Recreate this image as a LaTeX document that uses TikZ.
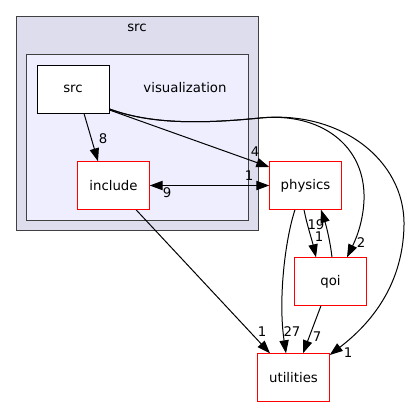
\documentclass[tikz,border=0pt]{standalone}
\usepackage{fontspec}
\setmainfont{DejaVu Sans}
\usetikzlibrary{arrows.meta,calc}
\definecolor{outerfill}{HTML}{DDDDEE}
\definecolor{innerfill}{HTML}{EEEEFF}
\definecolor{clborder}{HTML}{404040}
\definecolor{redb}{RGB}{255,0,0}
\tikzset{
  dirbox/.style={fill=white,text=black,minimum width=72pt,minimum height=48pt,inner sep=0pt,font=\fontsize{13.3}{16}\selectfont},
  srcbox/.style={dirbox,draw=black,line width=1pt},
  redframe/.style={color=redb,draw=redb,line width=1.4pt},
  lbl/.style={inner sep=0pt,text=black,font=\fontsize{13.3}{16}\selectfont},
  dedge/.style={black,line width=1pt,-{Triangle[length=13pt,width=9.3pt]}},
  bedge/.style={black,line width=1pt,{Triangle[length=13pt,width=9.3pt]}-{Triangle[length=13pt,width=9.3pt]}},
}
\begin{document}
\begin{tikzpicture}[x=1pt,y=-1pt]
\useasboundingbox (0,0) rectangle (410,407);
\fill[white] (0,0) rectangle (410,407);
% clusters
\draw[clborder,fill=outerfill,line width=1pt] (16.5,16.5) rectangle (258.5,230.5);
\node[lbl] (srcl) at (137,28) {src};
\draw[clborder,fill=innerfill,line width=1pt] (26.5,54.5) rectangle (248.5,220.5);
\node[lbl] (visl) at (185,88) {visualization};
% nodes
\node[srcbox] (src) at (73,89) {src};
\node[dirbox] (include) at (113.5,185.5) {include};
\node[dirbox] (physics) at (305.5,185.5) {physics};
\node[dirbox] (qoi) at (330.5,281.5) {qoi};
\node[dirbox] (utilities) at (293.5,377.5) {utilities};
% edges
\draw[dedge] ([xshift=11pt]src.south) -- ([xshift=-15.5pt]include.north);
\node[lbl] (l8) at (103,139) {8};
\draw[dedge] ([yshift=-21pt]src.east) -- ([yshift=18.5pt]physics.west);
\node[lbl] (l4) at (255,152) {4};
\draw[bedge] (include.east) -- (physics.west);
\node[lbl] (l1a) at (249,176) {1};
\node[lbl] (l9) at (167,193) {9};
\draw[dedge] ([yshift=-20pt]src.east) .. controls (150,124) and (200,124) .. (260,118)
  .. controls (320,112) and (366,145) .. (364,200)
  .. controls (363,225) and (354,243) .. ([xshift=16.5pt]qoi.north);
\node[lbl] (l2) at (361,243) {2};
\draw[dedge] ([yshift=-20pt]src.east) .. controls (150,124) and (200,124) .. (260,118)
  .. controls (340,110) and (405,160) .. (404,225)
  .. controls (403,290) and (365,328) .. ([yshift=22.5pt]utilities.east);
\node[lbl] (l1e) at (348,353) {1};
\draw[dedge] ([xshift=22.5pt]include.south) -- ([xshift=-23.5pt]utilities.north);
\node[lbl] (l1b) at (262,332) {1};
\draw[dedge] ([xshift=-10.5pt]physics.south) .. controls (285,240) and (278,300) .. ([xshift=-7.5pt]utilities.north);
\node[lbl] (l27) at (292,332) {27};
\draw[dedge] ([xshift=-9.5pt]qoi.south) -- ([xshift=9.5pt]utilities.north);
\node[lbl] (l7) at (317,337) {7};
\draw[dedge] ([xshift=-1.5pt]physics.south) .. controls (307,225) and (312,240) .. ([xshift=-14.5pt]qoi.north);
\node[lbl] (l1c) at (319,237) {1};
\draw[dedge] ([xshift=1.5pt]qoi.north) .. controls (330,240) and (326,225) .. ([xshift=15.5pt]physics.south);
\node[lbl] (l19) at (316,225) {19};
% red frames drawn last
\draw[redframe] (utilities.south west) rectangle (utilities.north east);
\draw[redframe] (qoi.south west) rectangle (qoi.north east);
\draw[redframe] (physics.south west) rectangle (physics.north east);
\draw[redframe] (include.south west) rectangle (include.north east);
\end{tikzpicture}
\end{document}
